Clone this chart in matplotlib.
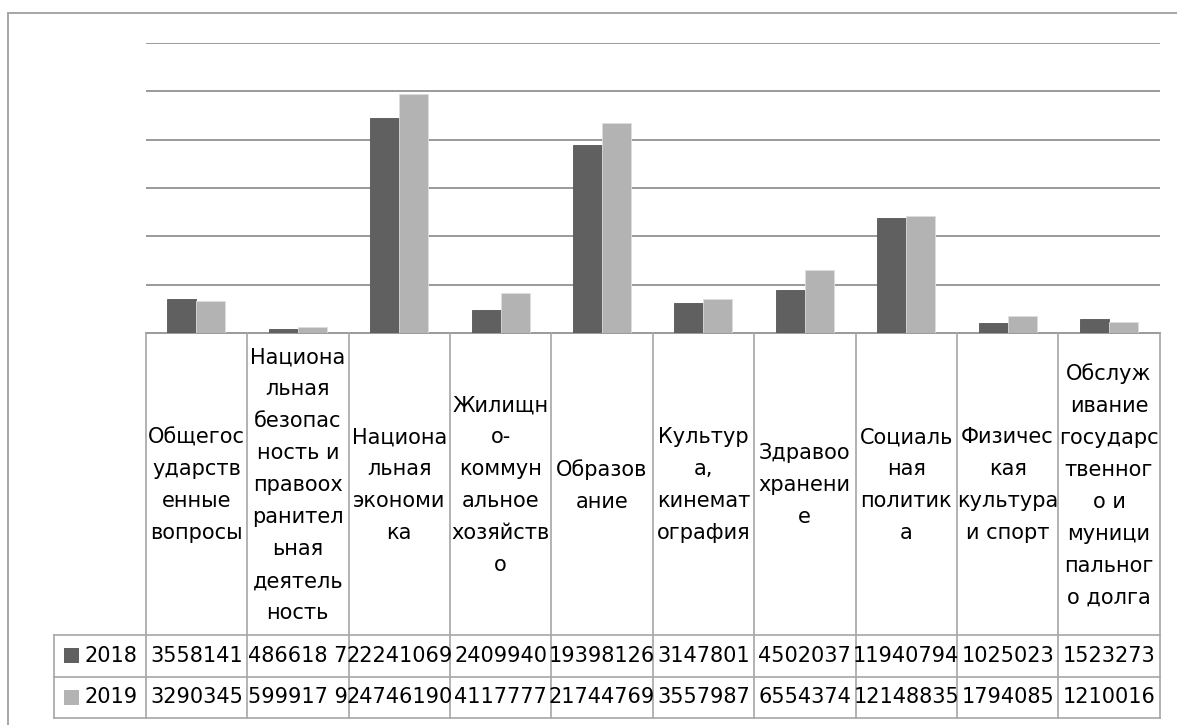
import numpy as np
import matplotlib
matplotlib.use("Agg")
import matplotlib.pyplot as plt
from matplotlib.patches import Rectangle

plt.rcParams['font.family'] = ['DejaVu Sans']

# data
categories = [
    "Общегос\nударств\nенные\nвопросы",
    "Национа\nльная\nбезопас\nность и\nправоох\nранител\nьная\nдеятель\nность",
    "Национа\nльная\nэкономи\nка",
    "Жилищн\nо-\nкоммун\nальное\nхозяйств\nо",
    "Образов\nание",
    "Культур\nа,\nкинемат\nография",
    "Здравоо\nхранени\nе",
    "Социаль\nная\nполитик\nа",
    "Физичес\nкая\nкультура\nи спорт",
    "Обслуж\nивание\nгосударс\nтвенног\nо и\nмуници\nпальног\nо долга",
]
series_names = ["2018", "2019"]
values_2018 = [3558141, 486618.7, 22241069, 2409940, 19398126,
               3147801, 4502037, 11940794, 1025023, 1523273]
values_2019 = [3290345, 599917.9, 24746190, 4117777, 21744769,
               3557987, 6554374, 12148835, 1794085, 1210016]
# text as it appears in the data table
cells_2018 = ["3558141", "486618 7", "22241069", "2409940", "19398126",
              "3147801", "4502037", "11940794", "1025023", "1523273"]
cells_2019 = ["3290345", "599917 9", "24746190", "4117777", "21744769",
              "3557987", "6554374", "12148835", "1794085", "1210016"]
colors = ["#606060", "#b3b3b3"]

W, H = 1177, 725
fig = plt.figure(figsize=(W / 100, H / 100), dpi=100)

# plot area in pixels (top-left origin)
px_left, px_right = 145.7, 1159.7
px_top, px_bottom = 42.7, 333.3
row1, row2, row3 = 635.0, 676.7, 717.7
leg_left = 54.0
grid_col = "#9a9a9a"
tab_col = "#a6a6a6"
fs = 15

ax = fig.add_axes([px_left / W, 1 - px_bottom / H,
                   (px_right - px_left) / W, (px_bottom - px_top) / H])
n = len(categories)
x = np.arange(n)
bw = 1 / 3.5
ax.bar(x - bw / 2, values_2018, bw, color=colors[0], edgecolor="#555555", linewidth=0.6, zorder=3)
ax.bar(x + bw / 2, values_2019, bw, color=colors[1], edgecolor="#dddddd", linewidth=0.6, zorder=3)
ax.set_xlim(-0.5, n - 0.5)
ax.set_ylim(0, 30000000)
ax.set_yticks(np.arange(5000000, 30000001, 5000000))
ax.yaxis.grid(True, color=grid_col, linewidth=1.4)
ax.set_axisbelow(True)
ax.tick_params(left=False, bottom=False, labelleft=False, labelbottom=False)
for s in ["top", "right", "left"]:
    ax.spines[s].set_visible(False)
ax.spines["bottom"].set_color(grid_col)
ax.spines["bottom"].set_linewidth(1.4)

# overlay in pixel coordinates for the data table and the border
ov = fig.add_axes([0, 0, 1, 1])
ov.set_xlim(0, W)
ov.set_ylim(H, 0)
ov.axis("off")
ov.patch.set_alpha(0)

# outer chart border
ov.plot([8, W], [13, 13], color="#a6a6a6", lw=1.4)
ov.plot([8, 8], [13, H], color="#a6a6a6", lw=1.4)

cw = (px_right - px_left) / n
edges = [px_left + i * cw for i in range(n + 1)]

# table lines
for e in edges:
    ov.plot([e, e], [px_bottom, row3], color=tab_col, lw=1.2)
for yy in (row1, row2, row3):
    ov.plot([leg_left, px_right], [yy, yy], color=tab_col, lw=1.2)
ov.plot([leg_left, leg_left], [row1, row3], color=tab_col, lw=1.2)

# category headers
for i, lab in enumerate(categories):
    cx = (edges[i] + edges[i + 1]) / 2
    ov.text(cx, (px_bottom + row1) / 2 + 1, lab, ha="center", va="center",
            fontsize=fs, linespacing=1.75, color="black")

# number rows
for (r0, r1), cells, col, name in [((row1, row2), cells_2018, colors[0], series_names[0]),
                                    ((row2, row3), cells_2019, colors[1], series_names[1])]:
    cy = (r0 + r1) / 2
    ov.add_patch(Rectangle((64, cy - 7.5), 15, 15, color=col, lw=0))
    ov.text(84, cy, name, ha="left", va="center", fontsize=fs)
    for i, t in enumerate(cells):
        cx = (edges[i] + edges[i + 1]) / 2
        clip = Rectangle((edges[i], r0), cw, r1 - r0, transform=ov.transData,
                         fill=False, lw=0)
        txt = ov.text(cx, cy, t, ha="center", va="center", fontsize=fs)
        txt.set_clip_path(clip)

fig.savefig("out.png", dpi=100, facecolor="white")
